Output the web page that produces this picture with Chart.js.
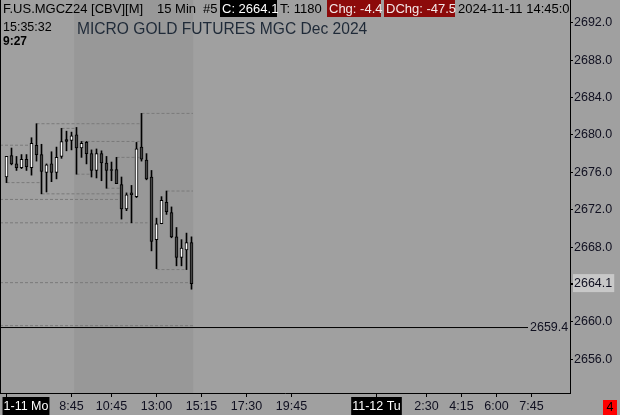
<!DOCTYPE html>
<html>
<head>
<meta charset="utf-8">
<script src="https://cdn.jsdelivr.net/npm/chart.js@4.4.1/dist/chart.umd.min.js"></script>
<style>
  html, body { margin: 0; padding: 0; background: #a0a0a0; }
  canvas { display: block; }
</style>
</head>
<body>
<canvas id="mgcChart" width="620" height="415"></canvas>
<script>
// barres 15 min du 11-11, de 5:30 a 14:45 (index 0 = 5:30)
var opens  = [2675.5, 2677.8, 2676.9, 2676.5, 2677.4, 2676.5, 2678.9, 2677.9, 2676.0, 2676.9,
              2676.0, 2677.7, 2679.5, 2679.4, 2680.0, 2678.6, 2679.2, 2678.0, 2676.2, 2678.0,
              2677.0, 2676.3, 2676.3, 2674.7, 2672.1, 2673.8, 2673.4, 2678.7, 2677.3, 2675.5,
              2668.8, 2670.5, 2672.8, 2671.7, 2669.1, 2666.9, 2667.7, 2668.5];
var highs  = [2677.7, 2678.6, 2677.7, 2677.9, 2677.9, 2679.7, 2681.2, 2679.0, 2676.9, 2678.2,
              2678.7, 2680.7, 2680.4, 2680.3, 2680.8, 2679.3, 2679.3, 2678.4, 2678.5, 2678.3,
              2677.7, 2677.1, 2677.6, 2675.5, 2673.8, 2674.6, 2679.2, 2682.3, 2678.0, 2676.2,
              2671.1, 2673.4, 2674.0, 2672.3, 2670.1, 2668.8, 2669.5, 2669.1];
var lows   = [2674.9, 2676.8, 2676.2, 2676.4, 2676.2, 2675.7, 2677.2, 2673.7, 2673.9, 2675.0,
              2675.3, 2677.5, 2678.3, 2678.4, 2675.8, 2677.6, 2676.9, 2675.5, 2675.4, 2675.1,
              2674.3, 2675.1, 2674.8, 2671.0, 2671.9, 2670.6, 2673.3, 2677.2, 2675.2, 2667.6,
              2665.7, 2670.5, 2671.5, 2669.0, 2666.0, 2666.0, 2665.6, 2663.5];
var closes = [2677.7, 2676.9, 2676.5, 2677.4, 2676.6, 2679.1, 2677.9, 2676.1, 2676.8, 2676.0,
              2677.6, 2679.3, 2679.3, 2679.9, 2678.6, 2679.1, 2678.0, 2676.2, 2678.0, 2677.0,
              2676.2, 2676.2, 2674.8, 2672.1, 2673.6, 2673.6, 2678.5, 2677.4, 2675.3, 2668.6,
              2670.5, 2673.0, 2671.8, 2669.1, 2666.9, 2667.9, 2668.5, 2664.1];

// niveaux pointilles (prix, barre de debut, barre de fin)
var levelPrices = [2678.9, 2674.9, 2681.2, 2673.7, 2673.1, 2680.7, 2675.8, 2679.3,
                   2674.3, 2677.6, 2670.6, 2682.3, 2674.0, 2665.6, 2664.2, 2659.6];
var levelFrom   = [-1.3, 0, 6, 7, -1.3, 11, 14, 15, 20, 22, -1.3, 27, 32, 30, -1.3, -1.3];
var levelTo     = [4.7, 6.6, 27, 23, 23, 14, 17, 27, 23, 27, 28.2, 37.3, 37.3, 36.1, 36.7, 37.3];

var refLevel = 2659.4;
var refLevelEnd = 104.3;
var lastClose = 2664.1;
var sessionShade = [13.54, 37.34];

var timeTickPos    = [0, 3.9, 13, 21, 30, 39, 48, 57, 74, 84, 91, 98, 105];
var timeTickLabels = ["", "1-11 Mo", "8:45", "10:45", "13:00", "15:15", "17:30", "19:45",
                      "11-12 Tu", "2:30", "4:15", "6:00", "7:45"];
var dateLabels = ["1-11 Mo", "11-12 Tu"];
var priceTicks = [2656, 2660, 2664, 2668, 2672, 2676, 2680, 2684, 2688, 2692];

var FONT = "'Liberation Sans', Arial, sans-serif";

var wickData = [], bodyData = [], bodyColors = [];
for (var i = 0; i < opens.length; i++) {
  wickData.push({ x: i, y: [lows[i], highs[i]] });
  bodyData.push({ x: i, y: [opens[i], closes[i]] });
  bodyColors.push(closes[i] >= opens[i] ? "#ffffff" : "#454545");
}

var datasets = [
  {
    type: "bar",
    data: bodyData,
    backgroundColor: bodyColors,
    borderColor: "#000000",
    borderWidth: 1,
    borderSkipped: false,
    barThickness: 3,
    minBarLength: 1,
    grouped: false,
    order: 0,
  },
  {
    type: "bar",
    data: wickData,
    backgroundColor: "#000000",
    borderWidth: 0,
    barThickness: 1,
    grouped: false,
    order: 1,
  },
];

for (var k = 0; k < levelPrices.length; k++) {
  datasets.push({
    type: "line",
    data: [{ x: levelFrom[k], y: levelPrices[k] }, { x: levelTo[k], y: levelPrices[k] }],
    borderColor: "#7a7a7a",
    borderWidth: 1,
    borderDash: [3, 2],
    pointRadius: 0,
    order: 3,
  });
}

datasets.push({
  type: "line",
  data: [{ x: -1.3, y: refLevel }, { x: refLevelEnd, y: refLevel }],
  borderColor: "#000000",
  borderWidth: 1,
  pointRadius: 0,
  order: 2,
});

var chartBackdrop = {
  id: "chartBackdrop",
  beforeDraw: function (chart) {
    var c = chart.ctx, a = chart.chartArea, xs = chart.scales.x;
    c.save();
    c.fillStyle = "#a0a0a0";
    c.fillRect(0, 0, chart.width, chart.height);
    var x0 = xs.getPixelForValue(sessionShade[0]);
    var x1 = xs.getPixelForValue(sessionShade[1]);
    c.fillStyle = "#989898";
    c.fillRect(x0, a.top, x1 - x0, a.bottom - a.top);
    c.restore();
  },
  afterDraw: function (chart) {
    var c = chart.ctx, a = chart.chartArea, ys = chart.scales.y;
    c.save();

    // bord gauche
    c.strokeStyle = "#000000";
    c.lineWidth = 1;
    c.beginPath();
    c.moveTo(0.5, a.top);
    c.lineTo(0.5, a.bottom);
    c.stroke();

    // etiquette du niveau
    c.font = "12.5px " + FONT;
    c.textBaseline = "middle";
    c.textAlign = "left";
    c.fillStyle = "#101020";
    c.fillText(refLevel.toFixed(1), 530, ys.getPixelForValue(refLevel));

    // en-tete
    c.beginPath();
    c.rect(0, 0, a.right, a.bottom);
    c.clip();
    c.font = "13px " + FONT;
    var ty = 9;
    c.fillStyle = "#000000";
    c.fillText("F.US.MGCZ24 [CBV][M]", 3, ty);
    c.fillText("15 Min", 157, ty);
    c.fillText("#5", 203, ty);
    c.fillRect(220, 0, 57, 17);
    c.fillStyle = "#ffffff";
    c.fillText("C: " + lastClose.toFixed(1), 222, ty);
    c.fillStyle = "#000000";
    c.fillText("T: 1180", 280, ty);
    c.fillStyle = "#8c0a0a";
    c.fillRect(327, 0, 54, 17);
    c.fillRect(384, 0, 71, 17);
    c.fillStyle = "#f4e8e8";
    c.fillText("Chg: -4.4", 329, ty);
    c.fillText("DChg: -47.5", 386, ty);
    c.fillStyle = "#000000";
    c.fillText("2024-11-11 14:45:00", 458, ty);

    c.font = "12.5px " + FONT;
    c.fillText("15:35:32", 3, 28);
    c.font = "bold 12px " + FONT;
    c.fillText("9:27", 3, 42);
    c.font = "15.6px " + FONT;
    c.fillStyle = "#1f2a38";
    c.fillText("MICRO GOLD FUTURES MGC Dec 2024", 77, 30);
    c.restore();

    // case rouge en bas a droite
    c.save();
    c.fillStyle = "#ff0000";
    c.fillRect(603, 400, 14, 15);
    c.fillStyle = "#000000";
    c.font = "12.5px " + FONT;
    c.textAlign = "center";
    c.textBaseline = "middle";
    c.fillText("4", 610, 408);
    c.restore();
  },
};

var ctx = document.getElementById("mgcChart").getContext("2d");
var mgcChart = new Chart(ctx, {
  type: "bar",
  data: { datasets: datasets },
  options: {
    responsive: false,
    animation: false,
    devicePixelRatio: 1,
    layout: { padding: 0 },
    plugins: {
      legend: { display: false },
      tooltip: { enabled: false },
    },
    scales: {
      x: {
        type: "linear",
        min: -1.3,
        max: 112.7,
        offset: false,
        grid: {
          offset: false,
          drawOnChartArea: false,
          drawTicks: true,
          tickLength: 4,
          tickColor: function (c) {
            return c.index === 1 ? "rgba(0,0,0,0)" : "#000000";
          },
        },
        border: { color: "#000000", width: 1 },
        afterBuildTicks: function (scale) {
          scale.ticks = timeTickPos.map(function (v) { return { value: v }; });
        },
        afterFit: function (scale) {
          scale.height = 22;
          scale.paddingLeft = 0;
          scale.paddingRight = 0;
        },
        ticks: {
          autoSkip: false,
          maxRotation: 0,
          minRotation: 0,
          padding: 2,
          font: { family: FONT, size: 12.5 },
          color: function (c) {
            return dateLabels.indexOf(timeTickLabels[c.index]) >= 0 ? "#ffffff" : "#101020";
          },
          showLabelBackdrop: function (c) {
            return dateLabels.indexOf(timeTickLabels[c.index]) >= 0;
          },
          backdropColor: "#000000",
          backdropPadding: { top: 2, bottom: 1, left: 1, right: 1 },
          callback: function (value, index) {
            return timeTickLabels[index];
          },
        },
      },
      y: {
        type: "linear",
        position: "right",
        min: 2652.4,
        max: 2694.43,
        grid: {
          drawOnChartArea: false,
          drawTicks: true,
          tickLength: 3,
          tickColor: "#000000",
        },
        border: { color: "#000000", width: 1 },
        afterBuildTicks: function (scale) {
          var t = priceTicks.map(function (v) { return { value: v }; });
          t.push({ value: lastClose });
          t.sort(function (p, q) { return p.value - q.value; });
          scale.ticks = t;
        },
        afterFit: function (scale) {
          scale.width = 50;
          scale.paddingTop = 0;
          scale.paddingBottom = 0;
        },
        ticks: {
          padding: 1,
          font: { family: FONT, size: 12.5 },
          color: "#101020",
          showLabelBackdrop: function (c) {
            return c.tick && c.tick.value === lastClose;
          },
          backdropColor: "#c8c8c8",
          backdropPadding: { top: 2, bottom: 1, left: 1, right: 2 },
          callback: function (value) {
            return Number(value).toFixed(1);
          },
        },
      },
    },
  },
  plugins: [chartBackdrop],
});
</script>
</body>
</html>
